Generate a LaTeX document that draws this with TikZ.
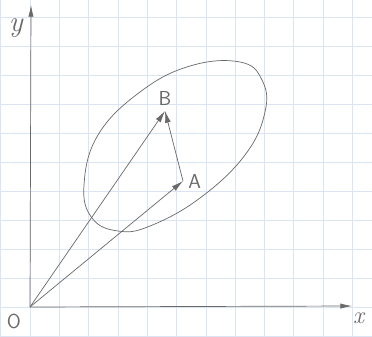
\documentclass[tikz,border=0pt]{standalone}
\usepackage{tikz}
\usetikzlibrary{arrows.meta, positioning}

\definecolor{gridblue}{RGB}{218,228,242}
\definecolor{pencil}{RGB}{105,105,105}

\begin{document}
\begin{tikzpicture}[
        x=0.03cm, y=-0.03cm,
        every node/.style={font=\sffamily\LARGE, text=pencil},
        axis/.style={-{Latex[length=10pt, width=4.5pt]}, pencil, semithick},
        vec/.style={-{Latex[length=10pt, width=5pt]}, pencil, semithick},
        blob/.style={pencil, semithick}
    ]
        \useasboundingbox (0,0) rectangle (372,336);
        \fill[white] (0,0) rectangle (372,336);

        % Paper grid
        \foreach \i in {0,...,12} {
            \draw[gridblue, thin] (0.7+29.3*\i,0) -- (0.7+29.3*\i,336);
        }
        \foreach \j in {0,...,11} {
            \draw[gridblue, thin] (0,17+29*\j) -- (372,17+29*\j);
        }

        % Points
        \coordinate (O) at (30,307);
        \coordinate (A) at (183,181);
        \coordinate (B) at (165,111);
        \coordinate (ytip) at (31,5);
        \coordinate (xtip) at (352,306);

        % Labels
        \node[font=\Huge] (ylab) at (17,28) {$\mathit{y}$};
        \node[font=\huge] (xlab) at (360,318) {$\mathit{x}$};
        \node (olab) at (14,321) {O};
        \node[right=1pt of A] (alab) {A};
        \node[above=1pt of B] (blab) {B};

        % Region round A and B
        \draw[blob] plot[smooth cycle, tension=0.7] coordinates {
            (240,62) (262,80) (265,112) (245,155) (200,198)
            (150,226) (118,231) (92,218) (84,185) (98,135)
            (140,92) (190,66)};

        % Axes
        \draw[axis] (O) -- (ytip);
        \draw[axis] (O) -- (xtip);

        % Vectors
        \draw[vec] (O) -- (A);
        \draw[vec] (O) -- (B);
        \draw[vec] (A) -- (B);

    \end{tikzpicture}
\end{document}
